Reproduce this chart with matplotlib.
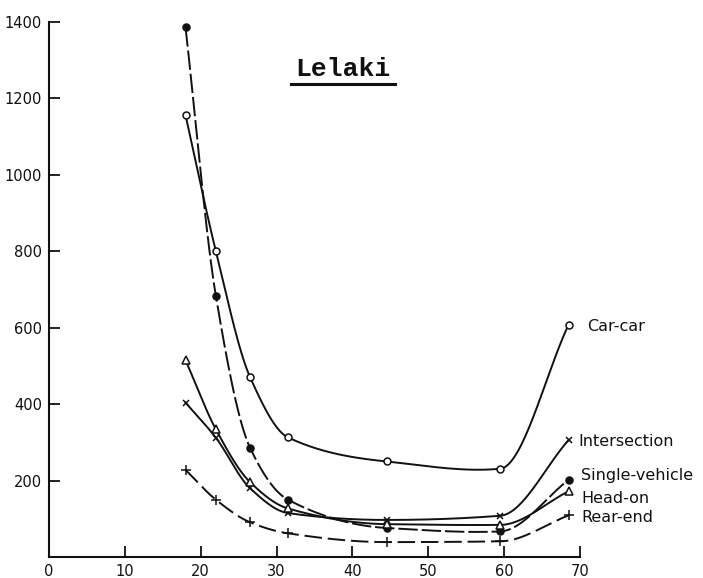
import numpy as np
import matplotlib
matplotlib.use("Agg")
import matplotlib.pyplot as plt
from matplotlib.lines import Line2D

# Speed (x) at which each rate was observed
speed = [18, 22, 26.5, 31.5, 44.5, 59.5, 68.5]

car_car = [1156, 800, 471, 313, 250, 231, 608]
intersection = [404, 312, 180, 115, 97, 108, 306]
single_vehicle = [1386, 683, 286, 150, 76, 67, 202]
head_on = [515, 334, 196, 127, 86, 84, 172]
rear_end = [228, 150, 91, 62, 39, 41, 109]

series_names = ["Car-car", "Intersection", "Single-vehicle", "Head-on", "Rear-end"]

x_ticks = [0, 10, 20, 30, 40, 50, 60, 70]
y_ticks = [200, 400, 600, 800, 1000, 1200, 1400]


def smooth(xs, ys, n=60):
    """Piecewise-cubic Hermite curve through the points (Fritsch-Carlson
    slopes, with a small upward slope kept where a shallow trough turns
    into a steep rise)."""
    x = np.asarray(xs, float)
    y = np.asarray(ys, float)
    h = np.diff(x)
    d = np.diff(y) / h
    m = np.zeros_like(y)
    m[0], m[-1] = d[0], d[-1]
    for k in range(1, len(x) - 1):
        if d[k - 1] * d[k] <= 0:
            if abs(d[k]) > 3 * abs(d[k - 1]):
                m[k] = 1.5 * abs(d[k - 1]) * np.sign(d[k])
            else:
                m[k] = 0.0
        else:
            w1 = 2 * h[k] + h[k - 1]
            w2 = h[k] + 2 * h[k - 1]
            m[k] = (w1 + w2) / (w1 / d[k - 1] + w2 / d[k])
    px, py = [], []
    for k in range(len(x) - 1):
        t = np.linspace(0, 1, n)
        h00 = 2 * t**3 - 3 * t**2 + 1
        h10 = t**3 - 2 * t**2 + t
        h01 = -2 * t**3 + 3 * t**2
        h11 = t**3 - t**2
        px.append(x[k] + t * h[k])
        py.append(h00 * y[k] + h10 * h[k] * m[k] + h01 * y[k + 1] + h11 * h[k] * m[k + 1])
    return np.concatenate(px), np.concatenate(py)


fig = plt.figure(figsize=(7.03, 5.78), dpi=100)
ax = fig.add_axes([0.0697, 0.0363, 0.7553, 0.9257])
ax.set_xlim(0, 70)
ax.set_ylim(0, 1400)

ink = "#111111"
styles = {
    "Car-car": dict(data=car_car, marker="o", mfc="white", ls="-", ms=5),
    "Intersection": dict(data=intersection, marker="x", mfc=ink, ls="-", ms=5),
    "Single-vehicle": dict(data=single_vehicle, marker="o", mfc=ink, ls=(0, (10, 2)), ms=5),
    "Head-on": dict(data=head_on, marker="^", mfc="white", ls="-", ms=6),
    "Rear-end": dict(data=rear_end, marker="+", mfc=ink, ls=(0, (9, 3)), ms=7),
}

for name in series_names:
    st = styles[name]
    sx, sy = smooth(speed, st["data"])
    ax.plot(sx, sy, color=ink, lw=1.4, ls=st["ls"], zorder=2)
    ax.plot(speed, st["data"], ls="none", marker=st["marker"], ms=st["ms"],
            mfc=st["mfc"], mec=ink, mew=1.1, zorder=3)

# Series labels at the right-hand ends of the curves
label_pos = {
    "Car-car": (71.0, car_car[-1] - 5),
    "Intersection": (69.8, intersection[-1] - 5),
    "Single-vehicle": (70.2, single_vehicle[-1] + 10),
    "Head-on": (70.2, head_on[-1] - 20),
    "Rear-end": (70.2, rear_end[-1] - 6),
}
for name in series_names:
    lx, ly = label_pos[name]
    ax.text(lx, ly, name, fontsize=11.5, color=ink, va="center", ha="left",
            clip_on=False)

# Axes: left and bottom lines only, ticks pointing inward
for s in ("top", "right"):
    ax.spines[s].set_visible(False)
for s in ("left", "bottom"):
    ax.spines[s].set_linewidth(1.5)
    ax.spines[s].set_color(ink)

ax.set_xticks(x_ticks)
ax.set_xticklabels([str(v) for v in x_ticks])
ax.set_yticks(y_ticks)
ax.set_yticklabels([str(v) for v in y_ticks])
ax.tick_params(axis="both", direction="in", length=8, width=1.3, colors=ink,
               labelsize=10.5)
ax.tick_params(axis="x", pad=5)
ax.tick_params(axis="y", pad=5)

# Typewritten title with an underline
fig.text(0.488, 0.868, "Lelaki", fontsize=19, family="Liberation Mono",
         weight="bold", ha="center", va="baseline", color=ink)
fig.add_artist(Line2D([0.414, 0.562], [0.855, 0.855], transform=fig.transFigure,
                      color=ink, lw=2.2))

fig.savefig("out.png", dpi=100)
